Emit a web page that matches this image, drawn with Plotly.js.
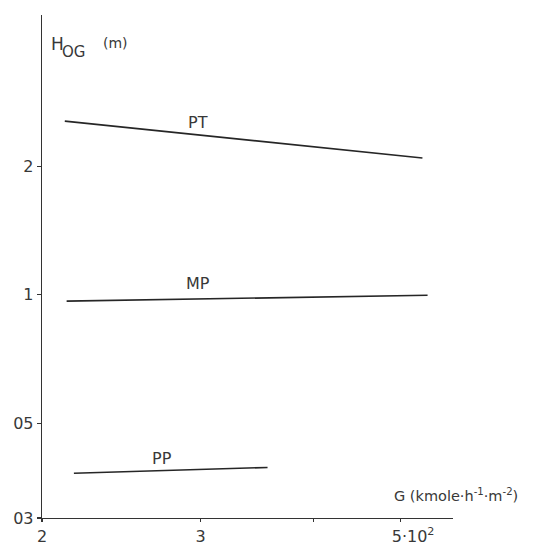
<!DOCTYPE html>
<html>
<head>
<meta charset="utf-8">
<script src="https://cdn.plot.ly/plotly-3.0.1.min.js"></script>
<style>html,body{margin:0;padding:0;background:#fff;}#chart{width:534px;height:543px;}</style>
</head>
<body>
<div id="chart"></div>
<script>
// Series (G in units of 10^2 kmole/h/m2, HOG in m)
const seriesNames = ["PT", "MP", "PP"];
const ptX = [2.12, 5.29];
const ptY = [2.55, 2.09];
const mpX = [2.13, 5.36];
const mpY = [0.966, 0.997];
const ppX = [2.17, 3.56];
const ppY = [0.382, 0.394];
const labelX = [2.98, 2.98, 2.72];
const labelY = [2.53, 1.065, 0.414];

const xTickVals = [2, 3, 4, 5];
const xTickText = ["2", "3", "", "\u00a0\u00a0\u00a0\u00a0\u00a05·10<sup>2</sup>"];
const yTickVals = [0.3, 0.5, 1, 2];
const yTickText = ["03", "05", "1", "2"];

const lineStyle = {color: "#262626", width: 1.6};
const fam = "DejaVu Sans, sans-serif";
const txt = "#383838";

const traces = [
  {x: ptX, y: ptY, mode: "lines", line: lineStyle, name: seriesNames[0], hoverinfo: "none"},
  {x: mpX, y: mpY, mode: "lines", line: lineStyle, name: seriesNames[1], hoverinfo: "none"},
  {x: ppX, y: ppY, mode: "lines", line: lineStyle, name: seriesNames[2], hoverinfo: "none"}
];

const annotations = seriesNames.map((n, i) => ({
  x: Math.log10(labelX[i]), y: Math.log10(labelY[i]), xref: "x", yref: "y",
  text: n, showarrow: false, font: {family: fam, size: 16, color: txt}
}));
// y-axis title: H_OG (m)
annotations.push({
  xref: "paper", yref: "paper", x: 0.017, y: 0.942, xanchor: "left", yanchor: "middle",
  text: "H", showarrow: false, font: {family: fam, size: 17, color: txt}
});
annotations.push({
  xref: "paper", yref: "paper", x: 0.043, y: 0.927, xanchor: "left", yanchor: "middle",
  text: "OG", showarrow: false, font: {family: fam, size: 15, color: txt}
});
annotations.push({
  xref: "paper", yref: "paper", x: 0.143, y: 0.945, xanchor: "left", yanchor: "middle",
  text: "(m)", showarrow: false, font: {family: fam, size: 14, color: txt}
});
annotations.push({
  xref: "paper", yref: "paper", x: 0.852, y: 0.046, xanchor: "left", yanchor: "middle",
  text: "G (kmole·h<sup>-1</sup>·m<sup>-2</sup>)", showarrow: false,
  font: {family: fam, size: 14.5, color: txt}
});

const layout = {
  width: 534, height: 543,
  margin: {l: 42, r: 81, t: 15, b: 25},
  paper_bgcolor: "#fff", plot_bgcolor: "#fff",
  showlegend: false,
  font: {family: fam, size: 16, color: txt},
  xaxis: {
    type: "log", range: [Math.log10(2), Math.log10(5.72)],
    tickvals: xTickVals, ticktext: xTickText,
    showgrid: false, zeroline: false, showline: true, linecolor: "#333", linewidth: 1.3,
    ticks: "outside", ticklen: 3, tickcolor: "#333", tickwidth: 1.2,
    tickfont: {family: fam, size: 16, color: txt}
  },
  yaxis: {
    type: "log", range: [Math.log10(0.3), 0.655],
    tickvals: yTickVals, ticktext: yTickText,
    showgrid: false, zeroline: false, showline: true, linecolor: "#333", linewidth: 1.3,
    ticks: "outside", ticklen: 4, tickcolor: "#333", tickwidth: 1.2,
    tickfont: {family: fam, size: 16, color: txt}
  },
  annotations: annotations
};

Plotly.newPlot("chart", traces, layout, {staticPlot: true});
</script>
</body>
</html>
